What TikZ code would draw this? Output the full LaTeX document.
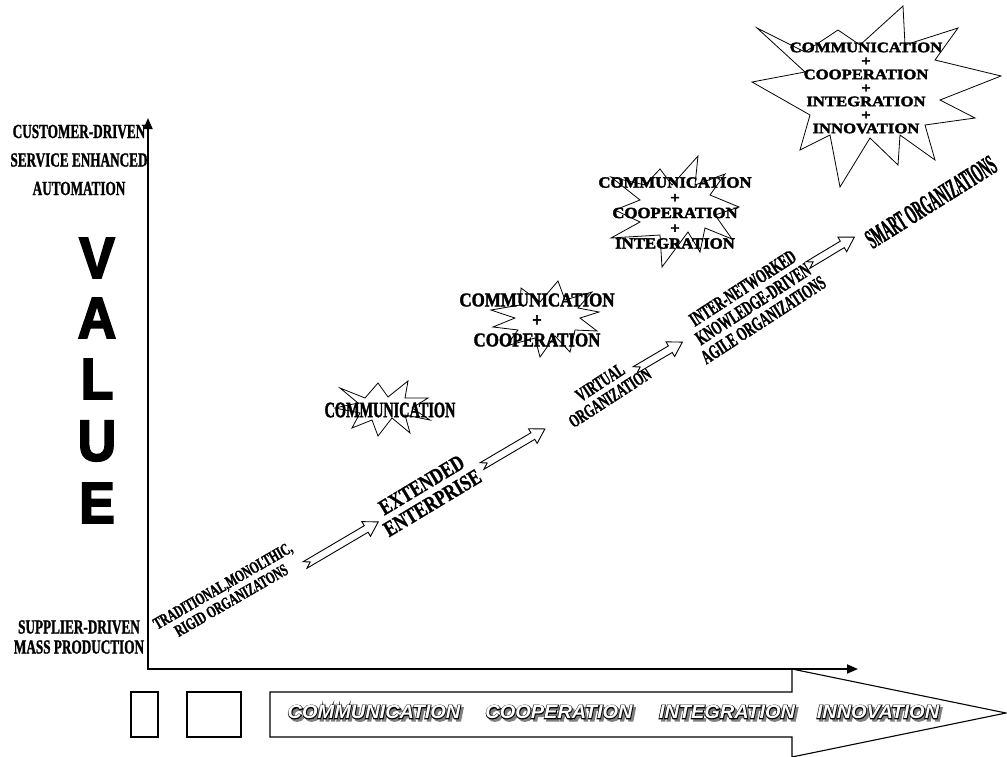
\documentclass[tikz,border=0pt]{standalone}
\usepackage{fontspec}
\setmainfont{Liberation Serif}
\newfontfamily\sansbold{Liberation Sans}
\usetikzlibrary{arrows.meta}

% bold serif at a given size, leading, horizontal stretch and extra weight
\newcommand\tfw[4]{\fontsize{#1}{#2}\selectfont\bfseries\addfontfeatures{FakeStretch=#3,FakeBold=#4}}
\newcommand\tf[3]{\tfw{#1}{#2}{#3}{1.2}}
% heavy sans for the vertical axis title
\newcommand\valfont{\sansbold\bfseries\fontsize{58}{58}\selectfont\addfontfeatures{FakeStretch=0.92,FakeBold=3}}
% italic sans for the lower banner
\newcommand\bword{\sansbold\bfseries\itshape\fontsize{19}{19}\selectfont\addfontfeatures{FakeStretch=1.05}}

\tikzset{
  lbl/.style={inner sep=0pt, align=center},
  axisline/.style={line width=1.8pt, {Triangle[length=11pt,width=9pt]}-{Triangle[length=11pt,width=9pt]}},
  burst/.style={draw, line width=0.8pt, line join=miter},
  hollow/.style={draw, line width=0.9pt, fill=white, line join=miter},
  banner/.style={draw, line width=1.1pt, fill=white},
  flowarrow/.pic={
    \draw[hollow] (0,-3.8) -- (#1-14,-3.8) -- (#1-14,-8.5) -- (#1,0)
      -- (#1-14,8.5) -- (#1-14,3.8) -- (0,3.8) -- (6,0) -- cycle;
  },
}

\begin{document}
\begin{tikzpicture}[x=1pt,y=-1pt]
\useasboundingbox (0,0) rectangle (1007,756);

% ---- lower banner: two boxes and the long arrow
\draw[banner] (131,692) rectangle (158,737);
\draw[banner] (187,692) rectangle (241,737);
\draw[banner] (270,692) -- (792,692) -- (792,669) -- (1006,713)
  -- (792,757) -- (792,737) -- (270,737) -- cycle;

\foreach \w/\x/\t in {1/374/COMMUNICATION, 2/559/COOPERATION, 3/727/INTEGRATION, 4/878/INNOVATION}{
  \node[lbl, text=black!50] (s\w) at (\x+2.4,714.4) {\bword\addfontfeatures{FakeBold=8}\t};
  \node[lbl, text=black] (o\w) at (\x,712) {\bword\addfontfeatures{FakeBold=8}\t};
  \node[lbl, text=white] (b\w) at (\x,712) {\bword\t};
}

% ---- axes
\coordinate (ytip) at (148,118);
\coordinate (origin) at (148,669);
\coordinate (xtip) at (858,669);
\draw[axisline] (ytip) -- (origin) -- (xtip);

% ---- axis labels
\node[lbl, font=\tf{20}{28.5}{0.66}] (high) at (79,160) {CUSTOMER-DRIVEN\\SERVICE ENHANCED\\AUTOMATION};
\node[lbl, font=\tf{20}{20}{0.66}] (low) at (79,637) {SUPPLIER-DRIVEN\\MASS PRODUCTION};

\node[lbl] (vV) at (97,258) {\valfont V};
\node[lbl] (vA) at (97,318) {\valfont A};
\node[lbl] (vL) at (97,379) {\valfont L};
\node[lbl] (vU) at (97,441) {\valfont U};
\node[lbl] (vE) at (97,503) {\valfont E};

% ---- bursts
\draw[burst] (340,388) -- (365,398) -- (378,383) -- (388,397) -- (408,381) -- (405,398)
  -- (428,398) -- (412,408) -- (430,420) -- (405,415) -- (410,433) -- (392,418)
  -- (378,436) -- (372,420) -- (352,428) -- (360,413) -- (335,408) -- (358,403) -- cycle;

\draw[burst] (558,281) -- (565,300) -- (592,292) -- (578,308) -- (599,312) -- (580,318)
  -- (597,331) -- (575,330) -- (570,352) -- (555,336) -- (540,357) -- (535,338)
  -- (506,346) -- (518,330) -- (493,327) -- (515,318) -- (491,310) -- (520,305)
  -- (521,288) -- (540,302) -- cycle;

\draw[burst] (698,156) -- (695,185) -- (725,174) -- (710,195) -- (739,207) -- (715,215)
  -- (732,239) -- (705,228) -- (700,252) -- (688,232) -- (662,267) -- (660,235)
  -- (611,238) -- (640,222) -- (615,210) -- (640,200) -- (611,177) -- (645,185)
  -- (660,169) -- (672,185) -- cycle;

\draw[burst] (757,28) -- (805,52) -- (838,30) -- (860,45) -- (903,6) -- (905,45)
  -- (958,28) -- (935,60) -- (1001,76) -- (940,100) -- (975,118) -- (925,125)
  -- (935,160) -- (900,135) -- (898,165) -- (870,138) -- (840,187) -- (830,135)
  -- (800,150) -- (810,115) -- (752,82) -- (805,72) -- cycle;

\node[lbl, font=\tfw{22}{22}{0.65}{1.6}] (c1) at (390,410) {COMMUNICATION};
\node[lbl, font=\tfw{19.5}{20}{0.87}{1.8}] (c2) at (537,320) {COMMUNICATION\\+\\COOPERATION};
\node[lbl, font=\tfw{15.5}{15.25}{1.08}{2.4}] (c3) at (675,213) {COMMUNICATION\\+\\COOPERATION\\+\\INTEGRATION};
\node[lbl, font=\tfw{14.5}{13.5}{1.15}{2.4}] (c4) at (866,88) {COMMUNICATION\\+\\COOPERATION\\+\\INTEGRATION\\+\\INNOVATION};

% ---- evolution path
\node[lbl, rotate=30, font=\tf{17}{17}{0.66}] (trad) at (227,593) {TRADITIONAL,MONOLTHIC,\\RIGID ORGANIZATONS};
\node[lbl, rotate=31, font=\tf{22}{21}{0.78}] (ext) at (427,494) {EXTENDED\\ENTERPRISE};
\node[lbl, rotate=33, font=\tf{19}{18}{0.62}] (virt) at (605,390) {VIRTUAL\\ORGANIZATION};
\node[lbl, rotate=33, font=\tf{20}{19}{0.6}] (inter) at (753,304) {INTER-NETWORKED\\KNOWLEDGE-DRIVEN\\AGILE ORGANIZATIONS};
\node[lbl, rotate=32, font=\tf{28}{28}{0.43}] (smart) at (931,202) {SMART ORGANIZATIONS};

\pic[rotate=30.5] at (305,565) {flowarrow=85};
\pic[rotate=30.5] at (482,466) {flowarrow=73};
\pic[rotate=30.5] at (635,370) {flowarrow=55};
\pic[rotate=31] at (808,265) {flowarrow=54};
\end{tikzpicture}
\end{document}
